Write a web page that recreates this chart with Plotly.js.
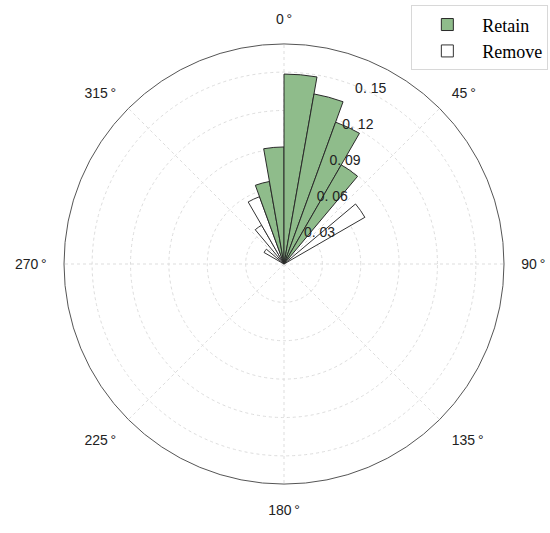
<!DOCTYPE html>
<html>
<head>
<meta charset="utf-8">
<script src="https://cdn.plot.ly/plotly-3.0.1.min.js"></script>
<style>html,body{margin:0;padding:0;background:#fff;}#chart{width:550px;height:533px;}</style>
</head>
<body>
<div id="chart"></div>
<script>
// Bin centres (degrees, clockwise from north) and bar heights
var retainTheta = [345, 355, 5, 15, 25, 35];
var retainR = [0.0655, 0.0915, 0.1485, 0.1350, 0.1180, 0.0895];
var removeTheta = [305, 325, 335, 55];
var removeR = [0.018, 0.035, 0.056, 0.073];
var binWidth = 10;
var radialTicks = [0.03, 0.06, 0.09, 0.12, 0.15];
var radialTickText = ['0. 03', '0. 06', '0. 09', '0. 12', '0. 15'];
var angleTicks = [0, 45, 90, 135, 180, 225, 270, 315];
var angleTickText = ['0\u2009°', '45\u2009°', '90\u2009°', '135\u2009°', '180\u2009°', '225\u2009°', '270\u2009°', '315\u2009°'];

var traces = [
  {
    type: 'barpolar', name: 'Remove', theta: removeTheta, r: removeR,
    width: removeTheta.map(function(){return binWidth;}),
    marker: {color: '#ffffff', line: {color: '#333333', width: 1}},
    legendrank: 2
  },
  {
    type: 'barpolar', name: 'Retain', theta: retainTheta, r: retainR,
    width: retainTheta.map(function(){return binWidth;}),
    marker: {color: '#8fbc8b', line: {color: '#2a2a2a', width: 1}},
    legendrank: 1
  }
];

var layout = {
  width: 550, height: 533,
  margin: {l: 0, r: 0, t: 0, b: 0},
  paper_bgcolor: '#ffffff',
  font: {family: 'Liberation Sans, Arial, sans-serif', size: 14, color: '#222'},
  showlegend: true,
  legend: {
    x: 0.997, y: 0.99, xanchor: 'right', yanchor: 'top',
    bgcolor: '#ffffff', bordercolor: '#d8d8d8', borderwidth: 1,
    font: {family: 'Liberation Serif, Times New Roman, serif', size: 18, color: '#000'},
    itemwidth: 60,
    tracegroupgap: 2
  },
  polar: {
    domain: {x: [64/550, 504/550], y: [49/533, 489/533]},
    bgcolor: '#ffffff',
    barmode: 'overlay',
    radialaxis: {
      range: [0, 0.172],
      tickvals: radialTicks, ticktext: radialTickText,
      angle: 70.5, tickangle: 70.5,
      showline: false, ticks: '',
      gridcolor: '#dddddd', griddash: 'dot', gridwidth: 1,
      tickfont: {family: 'Liberation Sans, Arial, sans-serif', size: 14, color: '#222'}
    },
    angularaxis: {
      rotation: 90, direction: 'clockwise',
      tickvals: angleTicks, ticktext: angleTickText,
      showline: true, linecolor: '#555555', linewidth: 1,
      gridcolor: '#dddddd', griddash: 'dot', gridwidth: 1,
      ticks: 'outside', ticklen: 14, tickcolor: 'rgba(0,0,0,0)',
      tickfont: {family: 'Liberation Sans, Arial, sans-serif', size: 14, color: '#222'}
    }
  }
};

Plotly.newPlot('chart', traces, layout, {displayModeBar: false, staticPlot: true});
</script>
</body>
</html>
